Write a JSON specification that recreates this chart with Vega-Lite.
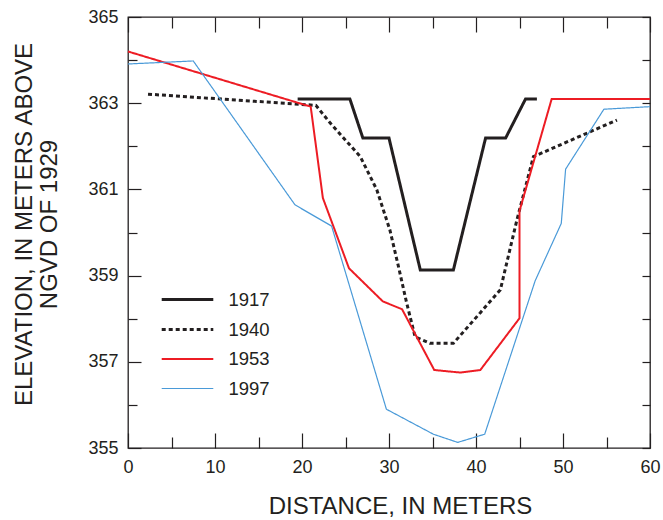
{
  "$schema": "https://vega.github.io/schema/vega-lite/v6.json",
  "width": 522,
  "height": 431,
  "autosize": {"type": "none"},
  "padding": {"left": 128, "top": 17, "right": 13, "bottom": 72},
  "background": "white",
  "config": {
    "font": "Liberation Sans",
    "view": {"stroke": "#231f20", "strokeWidth": 1.3},
    "axis": {"domain": false, "grid": false, "tickColor": "#231f20", "tickWidth": 1.2, "labelColor": "#231f20", "titleColor": "#231f20", "labelFont": "Liberation Sans", "titleFont": "Liberation Sans", "labelFontSize": 18, "titleFontSize": 24, "titleFontWeight": "normal"}
  },
  "datasets": {
    "profiles": [
      {"year": "1917", "seq": 1, "distance": 19.5, "elevation": 363.1},
      {"year": "1917", "seq": 2, "distance": 25.5, "elevation": 363.1},
      {"year": "1917", "seq": 3, "distance": 27.0, "elevation": 362.19},
      {"year": "1917", "seq": 4, "distance": 30.0, "elevation": 362.19},
      {"year": "1917", "seq": 5, "distance": 33.6, "elevation": 359.13},
      {"year": "1917", "seq": 6, "distance": 37.4, "elevation": 359.13},
      {"year": "1917", "seq": 7, "distance": 41.1, "elevation": 362.19},
      {"year": "1917", "seq": 8, "distance": 43.4, "elevation": 362.19},
      {"year": "1917", "seq": 9, "distance": 45.7, "elevation": 363.1},
      {"year": "1917", "seq": 10, "distance": 47.0, "elevation": 363.1},
      {"year": "1940", "seq": 1, "distance": 2.3, "elevation": 363.21},
      {"year": "1940", "seq": 2, "distance": 21.6, "elevation": 362.95},
      {"year": "1940", "seq": 3, "distance": 23.2, "elevation": 362.55},
      {"year": "1940", "seq": 4, "distance": 26.7, "elevation": 361.76},
      {"year": "1940", "seq": 5, "distance": 28.6, "elevation": 360.99},
      {"year": "1940", "seq": 6, "distance": 30.1, "elevation": 360.06},
      {"year": "1940", "seq": 7, "distance": 31.1, "elevation": 359.2},
      {"year": "1940", "seq": 8, "distance": 32.0, "elevation": 358.39},
      {"year": "1940", "seq": 9, "distance": 33.0, "elevation": 357.58},
      {"year": "1940", "seq": 10, "distance": 34.7, "elevation": 357.43},
      {"year": "1940", "seq": 11, "distance": 37.4, "elevation": 357.43},
      {"year": "1940", "seq": 12, "distance": 40.5, "elevation": 358.14},
      {"year": "1940", "seq": 13, "distance": 42.8, "elevation": 358.67},
      {"year": "1940", "seq": 14, "distance": 44.7, "elevation": 360.29},
      {"year": "1940", "seq": 15, "distance": 46.6, "elevation": 361.76},
      {"year": "1940", "seq": 16, "distance": 56.2, "elevation": 362.61},
      {"year": "1953", "seq": 1, "distance": 0, "elevation": 364.2},
      {"year": "1953", "seq": 2, "distance": 21.0, "elevation": 362.92},
      {"year": "1953", "seq": 3, "distance": 22.4, "elevation": 360.8},
      {"year": "1953", "seq": 4, "distance": 25.4, "elevation": 359.17},
      {"year": "1953", "seq": 5, "distance": 29.3, "elevation": 358.4},
      {"year": "1953", "seq": 6, "distance": 31.5, "elevation": 358.22},
      {"year": "1953", "seq": 7, "distance": 35.2, "elevation": 356.81},
      {"year": "1953", "seq": 8, "distance": 38.2, "elevation": 356.75},
      {"year": "1953", "seq": 9, "distance": 40.5, "elevation": 356.81},
      {"year": "1953", "seq": 10, "distance": 45.0, "elevation": 358.01},
      {"year": "1953", "seq": 11, "distance": 45.0, "elevation": 360.5},
      {"year": "1953", "seq": 12, "distance": 48.7, "elevation": 363.1},
      {"year": "1953", "seq": 13, "distance": 60, "elevation": 363.1},
      {"year": "1997", "seq": 1, "distance": 0, "elevation": 363.91},
      {"year": "1997", "seq": 2, "distance": 7.5, "elevation": 363.98},
      {"year": "1997", "seq": 3, "distance": 19.2, "elevation": 360.64},
      {"year": "1997", "seq": 4, "distance": 23.4, "elevation": 360.15},
      {"year": "1997", "seq": 5, "distance": 29.7, "elevation": 355.9},
      {"year": "1997", "seq": 6, "distance": 35.1, "elevation": 355.32},
      {"year": "1997", "seq": 7, "distance": 37.9, "elevation": 355.13},
      {"year": "1997", "seq": 8, "distance": 41.0, "elevation": 355.32},
      {"year": "1997", "seq": 9, "distance": 46.8, "elevation": 358.88},
      {"year": "1997", "seq": 10, "distance": 49.8, "elevation": 360.21},
      {"year": "1997", "seq": 11, "distance": 50.3, "elevation": 361.47},
      {"year": "1997", "seq": 12, "distance": 54.7, "elevation": 362.86},
      {"year": "1997", "seq": 13, "distance": 60, "elevation": 362.92}
    ]
  },
  "data": {"name": "profiles"},
  "resolve": {"axis": {"x": "independent", "y": "independent"}},
  "layer": [
    {
      "mark": {"type": "line", "strokeCap": "butt", "strokeJoin": "miter"},
      "encoding": {
        "x": {"field": "distance", "type": "quantitative", "scale": {"domain": [0, 60], "nice": false, "zero": false},
          "axis": {"orient": "bottom", "values": [0, 10, 20, 30, 40, 50, 60], "tickSize": -15, "labelPadding": 25, "title": "DISTANCE, IN METERS", "titlePadding": 18, "titleX": 272, "titleAlign": "center", "labelFlush": false}},
        "y": {"field": "elevation", "type": "quantitative", "scale": {"domain": [355, 365], "nice": false, "zero": false},
          "axis": {"orient": "left", "values": [355, 357, 359, 361, 363, 365], "tickSize": -13, "labelPadding": 23, "title": ["ELEVATION, IN METERS ABOVE", "NGVD OF 1929"], "titleLineHeight": 25, "titlePadding": 26, "titleY": 207, "labelFlush": false}},
        "order": {"field": "seq", "type": "quantitative"},
        "color": {"field": "year", "type": "nominal",
          "scale": {"domain": ["1917", "1940", "1953", "1997"], "range": ["#231f20", "#231f20", "#ed1c24", "#4a9ad8"]},
          "legend": {"orient": "none", "legendX": 47, "legendY": 270, "title": null, "symbolType": "M-2.4,0H2.4", "symbolSize": 462, "labelFontSize": 18.5, "labelColor": "#231f20", "labelOffset": 28.5, "rowPadding": 8, "padding": 0}},
        "strokeDash": {"field": "year", "type": "nominal",
          "scale": {"domain": ["1917", "1940", "1953", "1997"], "range": [[1, 0], [4, 3], [1, 0], [1, 0]]}},
        "strokeWidth": {"field": "year", "type": "nominal",
          "scale": {"type": "ordinal", "domain": ["1917", "1940", "1953", "1997"], "range": [3, 3, 2, 1.2]}}
      }
    },
    {
      "mark": {"type": "point", "opacity": 0},
      "encoding": {
        "x": {"field": "distance", "type": "quantitative", "axis": {"orient": "bottom", "values": [5, 15, 25, 35, 45, 55], "tickSize": -11, "labels": false, "title": null}},
        "y": {"field": "elevation", "type": "quantitative", "axis": {"orient": "left", "values": [356, 358, 360, 362, 364], "tickSize": -9, "labels": false, "title": null}}
      }
    },
    {
      "mark": {"type": "point", "opacity": 0},
      "encoding": {
        "x": {"field": "distance", "type": "quantitative", "axis": {"orient": "top", "values": [0, 10, 20, 30, 40, 50, 60], "tickSize": -15, "labels": false, "title": null}},
        "y": {"field": "elevation", "type": "quantitative", "axis": {"orient": "right", "values": [355, 356, 357, 358, 359, 360, 361, 362, 363, 364, 365], "tickSize": -8, "labels": false, "title": null}}
      }
    },
    {
      "mark": {"type": "point", "opacity": 0},
      "encoding": {
        "x": {"field": "distance", "type": "quantitative", "axis": {"orient": "top", "values": [5, 15, 25, 35, 45, 55], "tickSize": -11, "labels": false, "title": null}},
        "y": {"field": "elevation", "type": "quantitative", "axis": null}
      }
    }
  ]
}
